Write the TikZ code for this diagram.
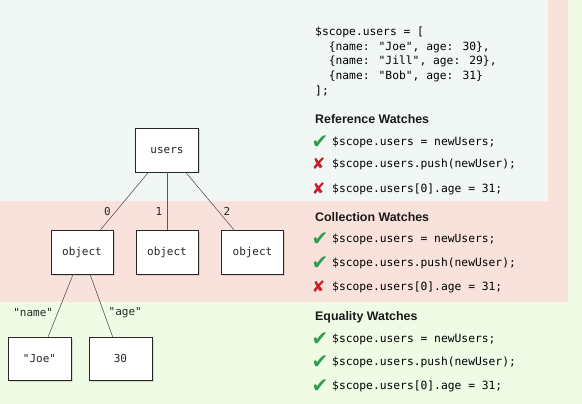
\documentclass[tikz,border=0pt]{standalone}
\usepackage{fontspec}
\setmainfont{Liberation Sans}
\newfontfamily\codefont{DejaVu Sans Mono}
\newfontfamily\symfont{DejaVu Sans}
\usetikzlibrary{shadows}

\definecolor{refbg}{HTML}{F0F7F5}
\definecolor{colbg}{HTML}{F9E2DC}
\definecolor{eqbg}{HTML}{EFFBE5}
\definecolor{okgreen}{HTML}{2E9E4F}
\definecolor{badred}{HTML}{C8202A}

\tikzset{
    databox/.style={draw=black!85, line width=0.7pt, fill=white, minimum width=63pt, minimum height=44pt,
        font=\codefont\fontsize{11}{13}\selectfont, text=black!85,
        drop shadow={shadow xshift=1.5pt, shadow yshift=-1.5pt, opacity=0.25}},
    edge/.style={draw=black!65, line width=0.6pt},
    keylabel/.style={font=\codefont\fontsize{11}{13}\selectfont, text=black!85},
    codeline/.style={anchor=west, inner sep=0pt, font=\codefont\fontsize{11.3}{13}\selectfont, text=black},
    heading/.style={anchor=west, inner sep=0pt, font=\bfseries\fontsize{12.4}{14}\selectfont, text=black!90},
    okmark/.style={inner sep=0pt, font=\symfont\fontsize{20}{20}\selectfont, text=okgreen},
    badmark/.style={inner sep=0pt, font=\symfont\fontsize{16}{16}\selectfont, text=badred}
}

\begin{document}
\begin{tikzpicture}[x=1pt, y=-1pt]
            \useasboundingbox (0, 0) rectangle (582, 404);
            % watch bands
            \fill[eqbg] (0, 0) rectangle (582, 404);
            \fill[colbg] (0, 0) rectangle (568, 302);
            \fill[refbg] (0, 0) rectangle (548, 201);

            % tree
            \node[databox] (users) at (167, 150) {users};
            \node[databox, minimum width=62pt] (obj0) at (82, 252) {object};
            \node[databox, minimum width=62pt] (obj1) at (167, 252) {object};
            \node[databox, minimum width=62pt] (obj2) at (252.5, 252) {object};
            \node[databox, minimum height=43pt] (joe) at (39.5, 358.5) {"Joe"};
            \node[databox, minimum height=43pt] (age) at (120.5, 358.5) {30};

            \draw[edge] (users) -- node[keylabel, pos=0.69, left=1pt] {0} (obj0);
            \draw[edge] (users) -- node[keylabel, pos=0.69, left=1pt] {1} (obj1);
            \draw[edge] (users) -- node[keylabel, pos=0.69, right=1pt] {2} (obj2);
            \draw[edge] (obj0) -- node[keylabel, pos=0.62, left=1pt] {"name"} (joe);
            \draw[edge] (obj0) -- node[keylabel, pos=0.62, right=1pt] {"age"} (age);

            % data
            \node[codeline] (code1) at (315, 32.3) {\$scope.users = [};
            \node[codeline] (code2) at (315, 47) {\ \ \{name: "Joe", age: 30\},};
            \node[codeline] (code3) at (315, 61.7) {\ \ \{name: "Jill", age: 29\},};
            \node[codeline] (code4) at (315, 76.3) {\ \ \{name: "Bob", age: 31\}};
            \node[codeline] (code5) at (315, 90.7) {];};

            % reference watches
            \node[heading] (refhead) at (315, 119) {Reference Watches};
            \node[okmark] (ref1) at (320, 142) {✔};
            \node[codeline] (reftext1) at (332, 142) {\$scope.users = newUsers;};
            \node[badmark] (ref2) at (318.5, 164) {✘};
            \node[codeline] (reftext2) at (332, 164) {\$scope.users.push(newUser);};
            \node[badmark] (ref3) at (318.5, 189) {✘};
            \node[codeline] (reftext3) at (332, 189) {\$scope.users[0].age = 31;};

            % collection watches
            \node[heading] (colhead) at (315, 217) {Collection Watches};
            \node[okmark] (col1) at (320, 239) {✔};
            \node[codeline] (coltext1) at (332, 239) {\$scope.users = newUsers;};
            \node[okmark] (col2) at (320, 263) {✔};
            \node[codeline] (coltext2) at (332, 263) {\$scope.users.push(newUser);};
            \node[badmark] (col3) at (318.5, 287) {✘};
            \node[codeline] (coltext3) at (332, 287) {\$scope.users[0].age = 31;};

            % equality watches
            \node[heading] (eqhead) at (315, 317) {Equality Watches};
            \node[okmark] (eq1) at (320, 339) {✔};
            \node[codeline] (eqtext1) at (332, 339) {\$scope.users = newUsers;};
            \node[okmark] (eq2) at (320, 362) {✔};
            \node[codeline] (eqtext2) at (332, 362) {\$scope.users.push(newUser);};
            \node[okmark] (eq3) at (320, 386) {✔};
            \node[codeline] (eqtext3) at (332, 386) {\$scope.users[0].age = 31;};
\end{tikzpicture}
\end{document}
